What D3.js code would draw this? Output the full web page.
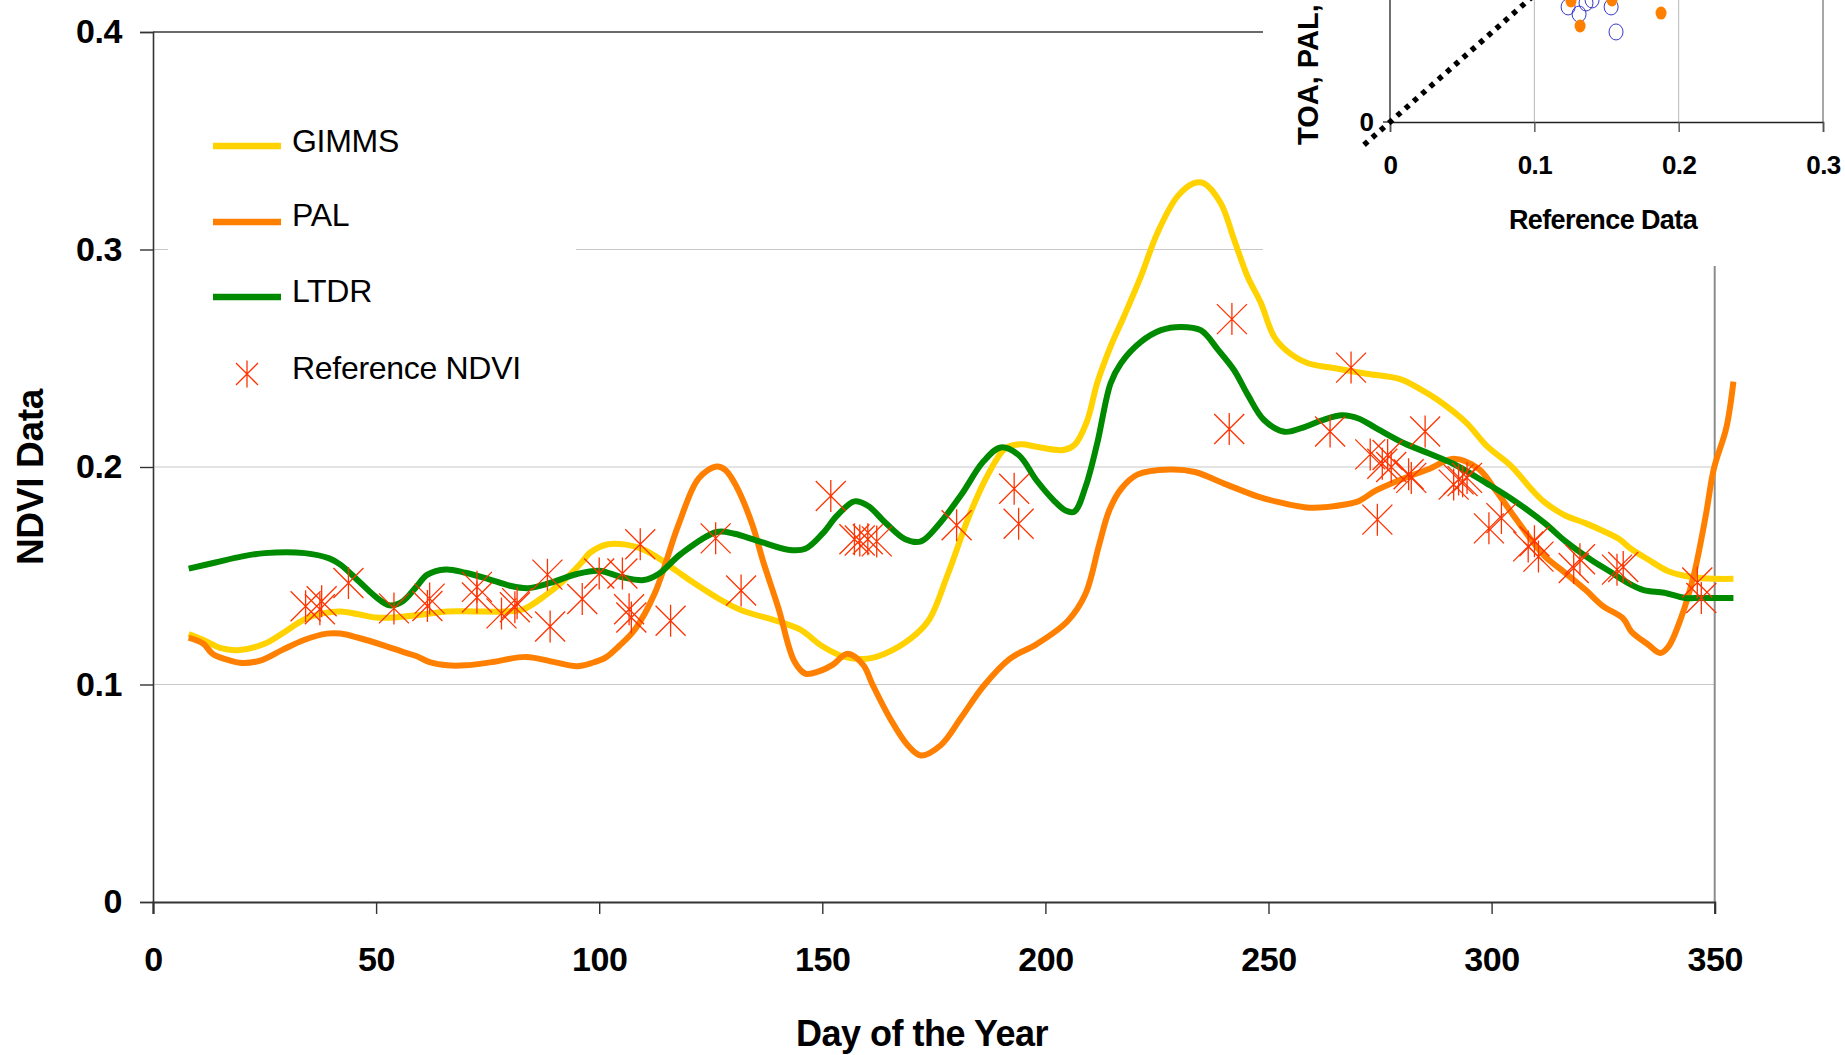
<!DOCTYPE html>
<html>
<head>
<meta charset="utf-8">
<script src="https://cdn.jsdelivr.net/npm/d3@7"></script>
<style>
  html, body { margin: 0; padding: 0; background: #fff; }
  svg { display: block; font-family: "Liberation Sans", Arial, sans-serif; }
</style>
</head>
<body>
<svg id="chart" width="1845" height="1055"></svg>
<script>
// ---- NDVI time series over the day of the year ----
const gimms = [
  [8,0.1232],[12,0.1198],[15,0.1168],[19,0.1158],[25,0.1187],[29,0.1235],[34,0.1300],[38,0.1327],
  [42,0.1336],[46,0.1323],[50,0.1308],[54,0.1308],[59,0.1318],[66,0.1336],[72,0.1336],[79,0.1336],
  [83,0.1346],[88,0.1411],[92,0.1477],[96,0.1560],[98,0.1607],[102,0.1645],[106,0.1643],[110,0.1620],
  [113,0.1585],[117.5,0.1520],[121,0.1470],[127,0.1392],[132,0.1340],[140,0.1291],[145,0.1253],
  [150,0.1176],[155,0.1127],[160,0.1118],[164,0.1141],[170,0.1214],[174,0.1300],[178,0.1500],
  [183,0.1780],[187,0.1960],[191,0.2085],[194.5,0.2105],[198,0.2093],[204,0.2078],[206.5,0.2101],
  [209.3,0.2209],[211.6,0.2386],[214.6,0.2554],[217.6,0.2692],[221.4,0.2876],[225.1,0.3076],
  [229.6,0.3244],[233.3,0.3305],[235.5,0.3305],[239.3,0.3213],[242.3,0.3045],[245.3,0.2876],
  [248.3,0.2754],[251.2,0.2601],[254.2,0.2532],[258.7,0.2478],[264.6,0.2455],[272,0.2429],
  [279.5,0.2404],[284,0.2358],[287.8,0.2310],[294.3,0.2204],[298.9,0.2097],[304.5,0.2002],
  [309,0.1896],[312,0.1836],[316.5,0.1777],[321,0.1742],[325,0.1706],[328.5,0.1670],[331.3,0.1623],
  [335,0.1576],[339.6,0.1521],[345.2,0.1493],[350,0.1486],[354.2,0.1486]
];

const pal = [
  [8,0.1215],[11.3,0.1187],[13.4,0.1140],[17,0.1112],[20,0.1099],[24.4,0.1112],[29,0.1159],[34,0.1206],
  [39,0.1234],[42,0.1234],[46,0.1215],[52,0.1178],[56,0.1150],[59,0.1131],[62,0.1103],[66,0.1088],
  [70,0.1088],[76,0.1103],[83.6,0.1127],[90,0.1103],[95,0.1084],[98.5,0.1100],[101.5,0.1125],
  [104.4,0.1176],[108,0.1253],[112.4,0.1417],[117.8,0.1736],[122.3,0.1948],[126.3,0.2002],
  [128.3,0.1986],[130.8,0.1909],[134.3,0.1736],[136.8,0.1562],[140.2,0.1349],[143.7,0.1108],
  [146.2,0.1050],[149.2,0.1060],[152.2,0.1089],[155.7,0.1141],[159.2,0.1089],[161.2,0.1002],
  [165.1,0.0847],[169.1,0.0722],[172.1,0.0674],[176.6,0.0722],[181.1,0.0847],[186.1,0.0992],
  [192,0.1118],[198,0.1185],[205,0.1292],[209,0.1417],[212,0.1639],[214.3,0.1800],[217,0.1900],
  [220.6,0.1965],[227.8,0.1988],[233.5,0.1977],[240.5,0.1920],[247.5,0.1865],[251.8,0.1841],
  [259.2,0.1813],[267.5,0.1829],[270.3,0.1844],[274,0.1891],[280.4,0.1948],[286,0.1991],
  [291.5,0.2038],[297.1,0.1991],[300.8,0.1896],[304.5,0.1789],[309.1,0.1659],[312,0.1588],
  [315.6,0.1528],[321.1,0.1434],[324.8,0.1363],[329.5,0.1303],[331.3,0.1244],[335,0.1185],
  [337.8,0.1145],[339.6,0.1173],[342.4,0.1303],[345.2,0.1493],[348,0.1777],[349.8,0.1991],
  [352.6,0.2180],[354.2,0.2393]
];

const ltdr = [
  [8,0.1533],[14,0.1561],[20,0.1589],[25,0.1604],[34,0.1604],[39.5,0.1580],[42,0.1551],[46,0.1477],
  [50,0.1402],[53,0.1364],[56,0.1383],[59,0.1449],[61.5,0.1505],[65.6,0.1529],[70,0.1514],[75,0.1486],
  [80,0.1454],[84,0.1443],[89,0.1467],[95,0.1508],[100,0.1523],[105,0.1494],[110,0.1480],
  [113.3,0.1508],[118.3,0.1600],[126.3,0.1701],[130.3,0.1693],[135.3,0.1662],[142.3,0.1620],
  [146.2,0.1624],[150.2,0.1697],[153.2,0.1774],[157.2,0.1842],[160.2,0.1822],[164.1,0.1745],
  [168.6,0.1668],[172.1,0.1658],[176.1,0.1736],[181.1,0.1871],[186.1,0.2025],[190,0.2090],
  [194,0.2055],[198,0.1939],[201.8,0.1848],[204.5,0.1800],[206.5,0.1795],[209,0.1909],
  [211.6,0.2108],[214.6,0.2384],[216.9,0.2476],[221.4,0.2575],[225.9,0.2629],[230.3,0.2644],
  [234.8,0.2629],[238.8,0.2536],[242.3,0.2445],[245.3,0.2334],[249,0.2216],[253.6,0.2162],
  [258.2,0.2185],[262,0.2215],[266.5,0.2238],[270.3,0.2222],[274,0.2180],[280.4,0.2109],
  [286,0.2062],[291.5,0.2014],[298.9,0.1925],[304.5,0.1853],[311.9,0.1742],[316.5,0.1659],
  [322.1,0.1576],[326.7,0.1517],[330.4,0.1469],[334.1,0.1434],[338.7,0.1422],[343.3,0.1398],
  [347,0.1398],[354.2,0.1398]
];

const referenceNdvi = [
  [34.2,0.1360],[37.4,0.1346],[37.8,0.1383],[43.8,0.1467],[54,0.1350],[61.5,0.1361],[62,0.1395],
  [72.6,0.1449],[72.6,0.1400],[78.1,0.1327],[81.1,0.1355],[81.6,0.1374],[88.4,0.1505],[89,0.1267],
  [96.2,0.1393],[100,0.1510],[105.2,0.1510],[106.7,0.1346],[107.2,0.1308],[109.2,0.1645],[116,0.1293],
  [126.1,0.1672],[131.8,0.1432],[151.9,0.1867],[157.2,0.1668],[158.4,0.1662],[160.2,0.1668],
  [162.2,0.1658],[180.1,0.1732],[193,0.1900],[194,0.1739],[241.8,0.2680],[241.2,0.2175],
  [268.5,0.2457],[263.8,0.2163],[272.8,0.2058],[274.4,0.1758],[275.5,0.2015],[276.7,0.2055],
  [277.5,0.2000],[281.4,0.1967],[282,0.1950],[285.1,0.2163],[291.5,0.1919],[292.6,0.1943],
  [293.5,0.1935],[294.5,0.1950],[299.4,0.1718],[302.2,0.1765],[308.2,0.1635],[309.6,0.1659],
  [310.5,0.1588],[318.4,0.1536],[319.8,0.1576],[328.1,0.1528],[329.5,0.1540],[346.1,0.1469],
  [347,0.1398]
];

const xTicks = [0, 50, 100, 150, 200, 250, 300, 350];
const yTicks = [0, 0.1, 0.2, 0.3, 0.4];
const yTickLabels = ["0", "0.1", "0.2", "0.3", "0.4"];

// ---- small scatter panel: satellite NDVI against reference data ----
const insetXTicks = [0, 0.1, 0.2, 0.3];
const insetXTickLabels = ["0", "0.1", "0.2", "0.3"];
const insetPal = [[0.1317,0.0756],[0.1878,0.0858],[0.1254,0.0953],[0.1538,0.0961]];
const insetLtdr = [[0.1566,0.0709],[0.1532,0.0906],[0.1234,0.0906],[0.1310,0.0850],[0.1358,0.0937],[0.1400,0.0961]];
const oneToOne = [[-0.018,-0.018],[0.1,0.1]];

const series = [
  { name: "GIMMS", data: gimms, color: "#ffd200" },
  { name: "PAL",   data: pal,   color: "#ff8000" },
  { name: "LTDR",  data: ltdr,  color: "#008a00" }
];
const starColor = "#ff3300";
const FONT = "'Liberation Sans', Arial, sans-serif";

const svg = d3.select("#chart");

const x = d3.scaleLinear().domain([0, 350]).range([153, 1714.7]);
const y = d3.scaleLinear().domain([0, 0.4]).range([902, 32]);

// gridlines
svg.append("g").selectAll("line")
  .data(yTicks.filter(v => v > 0 && v < 0.4))
  .join("line")
  .attr("x1", x(0)).attr("x2", x(350))
  .attr("y1", d => y(d)).attr("y2", d => y(d))
  .attr("stroke", "#c8c8c8").attr("stroke-width", 1);

// plot frame (top and right)
svg.append("line").attr("x1", x(0)).attr("x2", x(350)).attr("y1", y(0.4)).attr("y2", y(0.4))
  .attr("stroke", "#3a3a3a").attr("stroke-width", 1.5);
svg.append("line").attr("x1", x(350)).attr("x2", x(350)).attr("y1", y(0.4)).attr("y2", y(0))
  .attr("stroke", "#8c8c8c").attr("stroke-width", 2);

// legend background
svg.append("rect").attr("x", 168).attr("y", 100).attr("width", 408).attr("height", 300).attr("fill", "#fff");

// series lines
const line = d3.line()
  .x(d => x(d[0])).y(d => y(d[1]))
  .curve(d3.curveCatmullRom.alpha(0.5));

svg.append("g").selectAll("path")
  .data(series)
  .join("path")
  .attr("d", d => line(d.data))
  .attr("fill", "none")
  .attr("stroke", d => d.color)
  .attr("stroke-width", 6)
  .attr("stroke-linejoin", "round")
  .attr("stroke-linecap", "butt");

// asterisk marker: an X with a vertical bar
function starPath(w, h) {
  return `M${-w},${-w}L${w},${w}M${-w},${w}L${w},${-w}M0,${-h}V${h}`;
}

svg.append("g").selectAll("path")
  .data(referenceNdvi)
  .join("path")
  .attr("transform", d => `translate(${x(d[0])},${y(d[1])})`)
  .attr("d", starPath(15, 16))
  .attr("fill", "none")
  .attr("stroke", starColor)
  .attr("stroke-width", 1.3);

// axes
const yAxis = svg.append("g").attr("transform", `translate(${x(0)},0)`)
  .call(d3.axisLeft(y).tickValues(yTicks).tickSize(13).tickPadding(18)
    .tickFormat((d, i) => yTickLabels[i]));
const xAxis = svg.append("g").attr("transform", `translate(0,${y(0)})`)
  .call(d3.axisBottom(x).tickValues(xTicks).tickSize(12).tickPadding(33).tickFormat(d3.format("d")));

[yAxis, xAxis].forEach(g => {
  g.select(".domain").attr("stroke", "#333").attr("stroke-width", 1.6);
  g.selectAll(".tick line").attr("stroke", "#333").attr("stroke-width", 1.4);
  g.selectAll(".tick text")
    .attr("fill", "#000")
    .style("font-family", FONT)
    .style("font-size", "34px")
    .style("font-weight", "bold")
    .style("letter-spacing", "-0.4px");
});
xAxis.select(".domain").attr("stroke-width", 2.2);

// axis titles
svg.append("text")
  .attr("transform", "translate(30,477) rotate(-90)")
  .attr("text-anchor", "middle").attr("dy", "0.35em")
  .style("font-size", "37px").style("font-weight", "bold").style("letter-spacing", "-0.3px")
  .text("NDVI Data");
svg.append("text")
  .attr("x", 922).attr("y", 1033)
  .attr("text-anchor", "middle").attr("dy", "0.35em")
  .style("font-size", "36px").style("font-weight", "bold").style("letter-spacing", "-0.5px")
  .text("Day of the Year");

// legend
const legendRows = [
  { label: "GIMMS", color: "#ffd200", y: 146, ty: 141 },
  { label: "PAL", color: "#ff8000", y: 222, ty: 215 },
  { label: "LTDR", color: "#008a00", y: 297, ty: 291 }
];
const legend = svg.append("g");
legend.selectAll("line").data(legendRows).join("line")
  .attr("x1", 213).attr("x2", 281)
  .attr("y1", d => d.y).attr("y2", d => d.y)
  .attr("stroke", d => d.color).attr("stroke-width", 6.5);
legend.append("path")
  .attr("transform", "translate(247,374)")
  .attr("d", starPath(11, 13.5))
  .attr("fill", "none").attr("stroke", starColor).attr("stroke-width", 1.3);
legend.selectAll("text").data(legendRows.concat([{ label: "Reference NDVI", ty: 368 }])).join("text")
  .attr("x", 292).attr("y", d => d.ty).attr("dy", "0.35em")
  .style("font-size", "32px").style("letter-spacing", "-0.3px")
  .attr("fill", "#000")
  .text(d => d.label);

// ---- scatter panel in the upper right ----
const inset = svg.append("g");
inset.append("rect").attr("x", 1263).attr("y", 0).attr("width", 582).attr("height", 266).attr("fill", "#fff");

const ix = d3.scaleLinear().domain([0, 0.3]).range([1390, 1823]);
const iy = d3.scaleLinear().domain([0, 0.1]).range([122, -5]);

inset.append("g").selectAll("line")
  .data(insetXTicks.filter(v => v > 0))
  .join("line")
  .attr("x1", d => ix(d)).attr("x2", d => ix(d))
  .attr("y1", 0).attr("y2", iy(0))
  .attr("stroke", d => d === 0.3 ? "#a8a8a8" : "#b8b8b8")
  .attr("stroke-width", d => d === 0.3 ? 2 : 1);

inset.append("line").attr("x1", ix(0)).attr("x2", ix(0)).attr("y1", 0).attr("y2", iy(0))
  .attr("stroke", "#333").attr("stroke-width", 1.4);
inset.append("line").attr("x1", ix(0) - 7).attr("x2", ix(0)).attr("y1", iy(0)).attr("y2", iy(0))
  .attr("stroke", "#333").attr("stroke-width", 1.4);

const ixAxis = inset.append("g").attr("transform", `translate(0,${iy(0)})`)
  .call(d3.axisBottom(ix).tickValues(insetXTicks).tickSize(10).tickPadding(24)
    .tickFormat((d, i) => insetXTickLabels[i]));
ixAxis.select(".domain").attr("stroke", "#222").attr("stroke-width", 1.5);
ixAxis.selectAll(".tick line").attr("stroke", "#555").attr("stroke-width", 1.4);
ixAxis.selectAll(".tick text")
  .attr("fill", "#000")
  .style("font-family", FONT)
  .style("font-size", "26px").style("font-weight", "bold").style("letter-spacing", "-0.6px");

inset.append("text")
  .attr("x", 1374).attr("y", iy(0)).attr("dy", "0.35em").attr("text-anchor", "end")
  .style("font-size", "26px").style("font-weight", "bold")
  .text("0");

inset.append("text")
  .attr("x", 1603).attr("y", 220).attr("dy", "0.35em").attr("text-anchor", "middle")
  .style("font-size", "27px").style("font-weight", "bold").style("letter-spacing", "-0.6px")
  .text("Reference Data");

inset.append("text")
  .attr("transform", "translate(1318,145) rotate(-90)")
  .style("font-size", "29px").style("font-weight", "bold")
  .text("TOA, PAL,");

// 1:1 reference line
inset.append("path")
  .attr("d", d3.line().x(d => ix(d[0])).y(d => iy(d[1]))(oneToOne))
  .attr("stroke", "#000").attr("stroke-width", 5.5)
  .attr("stroke-dasharray", "5 6").attr("fill", "none");

inset.append("g").selectAll("ellipse").data(insetLtdr).join("ellipse")
  .attr("cx", d => ix(d[0])).attr("cy", d => iy(d[1]))
  .attr("rx", 7).attr("ry", 8)
  .attr("fill", "none").attr("stroke", "#3a3acc").attr("stroke-width", 1);
inset.append("g").selectAll("ellipse").data(insetPal).join("ellipse")
  .attr("cx", d => ix(d[0])).attr("cy", d => iy(d[1]))
  .attr("rx", 5.5).attr("ry", 6.5)
  .attr("fill", "#ff8000");
</script>
</body>
</html>
